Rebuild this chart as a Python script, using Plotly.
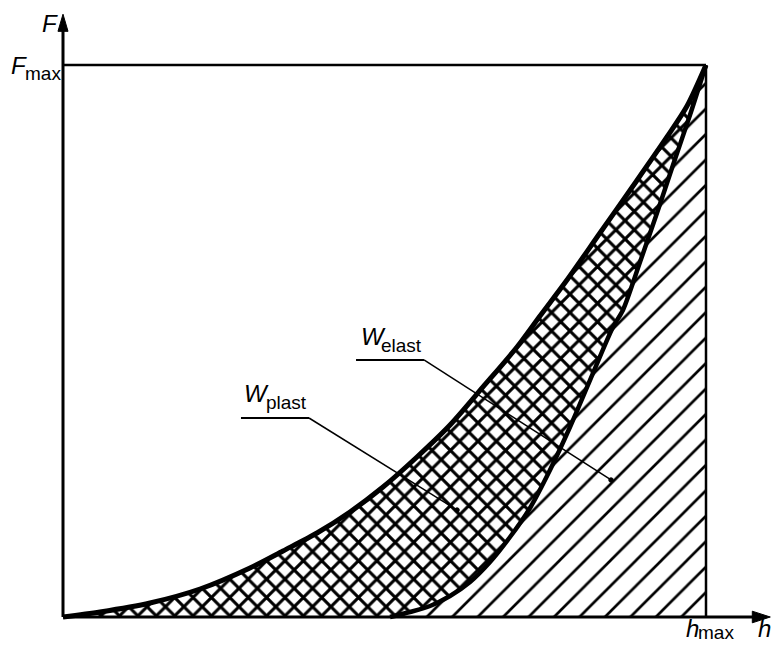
import plotly.graph_objects as go

# Indentation test: loading / unloading curves (normalised: h/hmax, F/Fmax)
h_load = [0.0, 0.0575, 0.1353, 0.2131, 0.2908, 0.3421, 0.3950, 0.4463, 0.4977,
          0.5505, 0.6019, 0.6532, 0.7061, 0.7418, 0.7838, 0.8351, 0.8865,
          0.9393, 0.9705, 1.0]
F_load = [0.0, 0.0091, 0.0254, 0.0507, 0.0888, 0.1196, 0.1522, 0.1902, 0.2355,
          0.2899, 0.3478, 0.4167, 0.4891, 0.5453, 0.6105, 0.6957, 0.7808,
          0.8696, 0.9257, 1.0]

h_unload = [0.5086, 0.5397, 0.5708, 0.6019, 0.6330, 0.6641, 0.6952, 0.7263,
            0.7574, 0.7885, 0.8243, 0.8554, 0.8709, 0.8974, 0.9238, 0.9487,
            0.9751, 1.0]
F_unload = [0.0, 0.0091, 0.0199, 0.0380, 0.0634, 0.0996, 0.1449, 0.1975,
            0.2663, 0.3442, 0.4420, 0.5254, 0.5562, 0.6431, 0.7319, 0.8188,
            0.9094, 1.0]

h_max = 1.0
F_max = 1.0
h_axis_end = 1.1
F_axis_end = 1.092

FONT = "Liberation Sans, Arial, Helvetica, sans-serif"

fig = go.Figure()

# W_plast region (crosshatch)
fig.add_trace(go.Scatter(
    x=h_load + h_unload[::-1], y=F_load + F_unload[::-1],
    mode="lines", fill="toself", line=dict(width=0, color="black"),
    fillcolor="white",
    fillpattern=dict(shape="x", size=13, solidity=0.42, fgcolor="black",
                     bgcolor="white", fillmode="replace"),
    hoverinfo="skip", showlegend=False))

# W_elast region (diagonal hatch)
fig.add_trace(go.Scatter(
    x=h_unload + [h_max, h_unload[0]], y=F_unload + [0.0, 0.0],
    mode="lines", fill="toself", line=dict(width=0, color="black"),
    fillcolor="white",
    fillpattern=dict(shape="/", size=18, solidity=0.15, fgcolor="black",
                     bgcolor="white", fillmode="replace"),
    hoverinfo="skip", showlegend=False))

# Curves
fig.add_trace(go.Scatter(x=h_load, y=F_load, mode="lines",
                         line=dict(color="black", width=5, shape="spline",
                                   smoothing=0.8),
                         hoverinfo="skip", showlegend=False))
fig.add_trace(go.Scatter(x=h_unload, y=F_unload, mode="lines",
                         line=dict(color="black", width=4.5, shape="spline",
                                   smoothing=0.8),
                         hoverinfo="skip", showlegend=False))

shapes = []
# frame lines
shapes.append(dict(type="line", x0=0, y0=F_max, x1=h_max, y1=F_max,
                   line=dict(color="black", width=2.5)))
shapes.append(dict(type="line", x0=h_max, y0=0, x1=h_max, y1=F_max,
                   line=dict(color="black", width=2.5)))
# axes
shapes.append(dict(type="line", x0=0, y0=0, x1=h_axis_end - 0.02, y1=0,
                   line=dict(color="black", width=3)))
shapes.append(dict(type="line", x0=0, y0=0, x1=0, y1=F_axis_end - 0.025,
                   line=dict(color="black", width=3)))
# arrow heads
ax_len = 0.028
ax_w = 0.0105
shapes.append(dict(type="path",
                   path=f"M {h_axis_end} 0 L {h_axis_end-ax_len} {ax_w} L {h_axis_end-ax_len} {-ax_w} Z",
                   fillcolor="black", line=dict(color="black", width=1)))
ay_len = 0.031
ay_w = 0.0078
shapes.append(dict(type="path",
                   path=f"M 0 {F_axis_end} L {-ay_w} {F_axis_end-ay_len} L {ay_w} {F_axis_end-ay_len} Z",
                   fillcolor="black", line=dict(color="black", width=1)))

# leader lines for labels
plast_ul = (0.2768, 0.3826, 0.3605)
plast_pt = (0.6128, 0.1938)
elast_ul = (0.4557, 0.5614, 0.4656)
elast_pt = (0.8523, 0.2482)
for (xa, xb, yu), (px, py) in ((plast_ul, plast_pt), (elast_ul, elast_pt)):
    shapes.append(dict(type="line", x0=xa, y0=yu, x1=xb, y1=yu,
                       line=dict(color="black", width=2)))
    shapes.append(dict(type="line", x0=xb, y0=yu, x1=px, y1=py,
                       line=dict(color="black", width=1.5)))
    shapes.append(dict(type="circle", x0=px - 0.0035, y0=py - 0.004,
                       x1=px + 0.0035, y1=py + 0.004,
                       fillcolor="black", line=dict(color="black", width=1)))

annotations = []
def label(text, x, y, size, italic):
    t = f"<i>{text}</i>" if italic else text
    annotations.append(dict(text=t, x=x, y=y, xref="x", yref="y",
                            xanchor="left", yanchor="middle", showarrow=False,
                            borderpad=0,
                            font=dict(family=FONT, size=size, color="black")))

label("F", -0.0342, 1.0754, 24, True)
label("F", -0.0824, 0.9993, 24, True)
label("max", -0.0607, 0.985, 19, False)
label("h", 0.9673, -0.0207, 24, True)
label("max", 0.986, -0.0277, 19, False)
label("h", 1.0793, -0.0207, 24, True)
label("W", 0.28, 0.405, 24, True)
label("plast", 0.3142, 0.389, 19, False)
label("W", 0.4619, 0.5083, 24, True)
label("elast", 0.493, 0.4922, 19, False)

fig.update_layout(
    width=772, height=651,
    margin=dict(l=0, r=0, t=0, b=0),
    paper_bgcolor="white", plot_bgcolor="white",
    xaxis=dict(visible=False, range=[-63 / 643, 709 / 643], fixedrange=True),
    yaxis=dict(visible=False, range=[-34 / 552, 617 / 552], fixedrange=True),
    shapes=shapes, annotations=annotations,
    showlegend=False,
)

# remove the default page margin so the figure sits exactly in the window
fig.write_html(
    "out.html",
    config={"displayModeBar": False, "staticPlot": True},
    post_script="document.body.style.margin='0';document.body.style.overflow='hidden';",
)
